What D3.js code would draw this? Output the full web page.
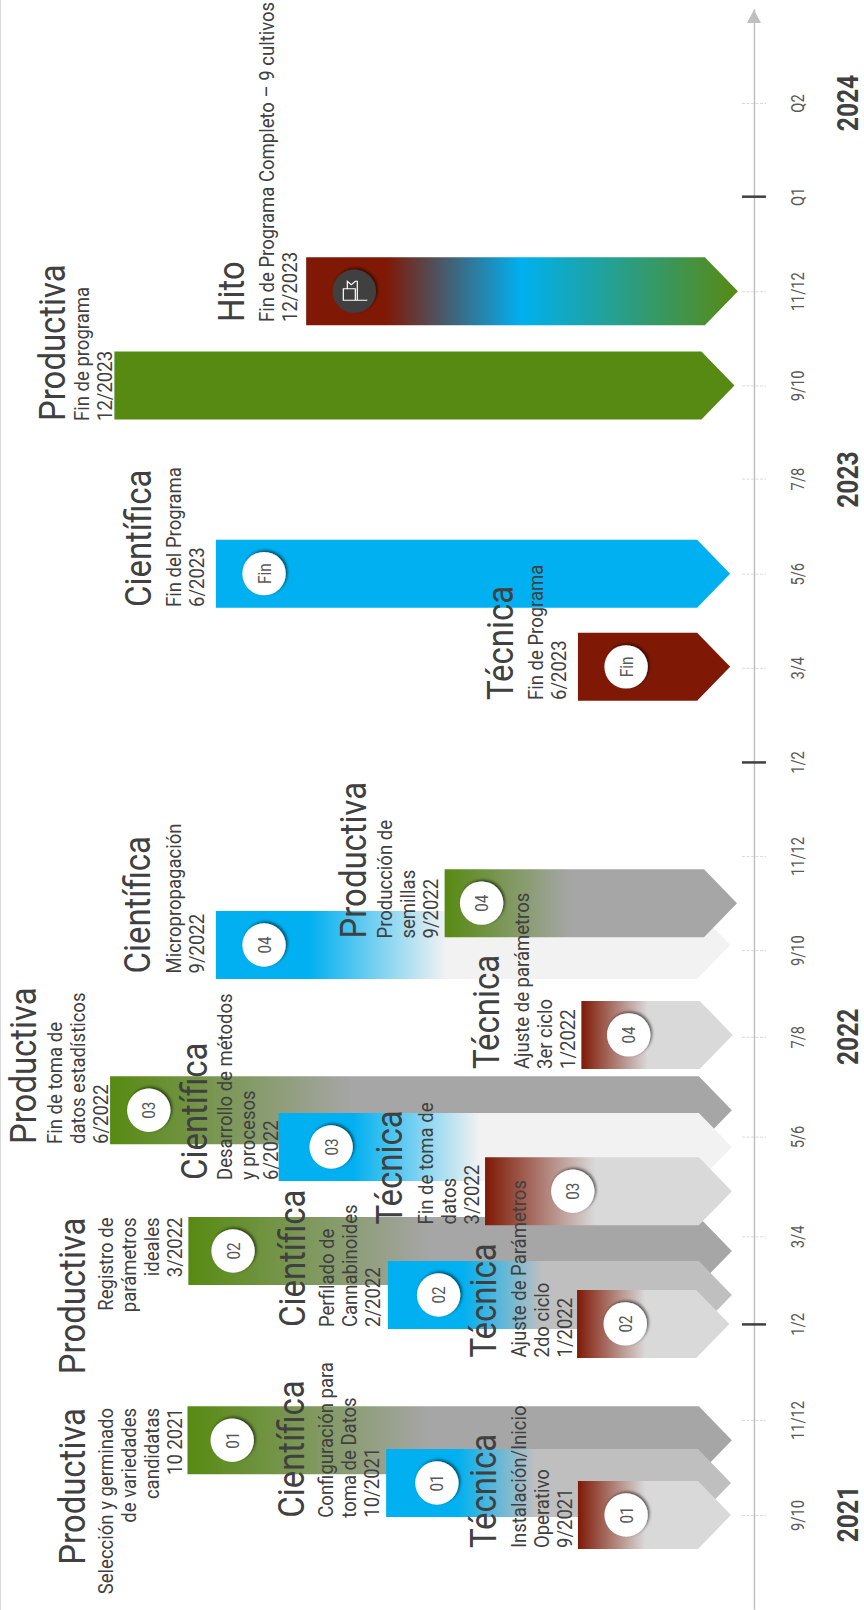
<!DOCTYPE html>
<html>
<head>
  <meta charset="utf-8">
  <title>Cronograma</title>
  <script src="https://d3js.org/d3.v7.min.js"></script>
  <style>
    body { margin: 0; padding: 0; background: #fff; }
    svg { display: block; }
    text { font-family: Roboto, sans-serif; }
  </style>
</head>
<body>
  <div id="my_dataviz"></div>
  <script>
    // time axis (two months per tick)
    var tickTime = [0, 1.01, 2.03, 2.96, 4.02, 5.08, 6, 7, 8, 9, 10, 11.01, 12, 13, 14.01, 15]
    var tickLabel = ["9/10", "11/12", "1/2", "3/4", "5/6", "7/8", "9/10", "11/12", "1/2", "3/4", "5/6", "7/8", "9/10", "11/12", "Q1", "Q2"]
    var majorTicks = [2, 8, 14]
    var yearLabel = ["2021", "2022", "2023", "2024"]
    var yearTime = [0.01, 5.08, 11, 15]

    // bars, in drawing order. start / tip / fade are % of the plot width
    var barKind = ["P", "C", "T", "P", "C", "T", "P", "C", "T", "C", "P", "T", "T", "C", "P", "H"]
    var barBadge = ["01", "01", "01", "02", "02", "02", "03", "03", "03", "04", "04", "04", "Fin", "Fin", "", "flag"]
    var barTime = [0.794, 0.34, 0, 2.805, 2.337, 2.03, 4.3, 3.91, 3.44, 6.055, 6.5, 5.1, 9.01, 10, 12, 13]
    var barStart = [21.8, 44.9, 67.2, 21.9, 45.1, 67.1, 12.8, 32.4, 56.4, 25.1, 51.7, 67.6, 67.2, 25.1, 13.3, 35.6]
    var barTip = [85.1, 85, 85, 85.1, 85.1, 84.8, 85.1, 85.1, 85.1, 84.9, 85.7, 85.2, 84.9, 84.9, 85.4, 85.8]
    var fadeFrom = [21.8, 53.2, 67.2, 21.9, 53.8, 67.1, 12.8, 41, 56.4, 35.9, 51.7, 67.6, 0, 0, 0, 44.9]
    var fadeTo = [50, 62.2, 75, 50, 63.1, 75, 41, 55.8, 69.2, 51.9, 66.3, 75.3, 0, 0, 0, 60.6]
    var fadeTone = ["dark", "mid", "light", "dark", "mid", "light", "dark", "pale", "light", "pale", "dark", "light", "none", "none", "none", "hito"]
    var badgeAt = [27, 50.8, 72.8, 27.1, 51, 72.7, 17.3, 38.5, 66.6, 30.7, 56, 73.1, 72.8, 30.7, 0, 41.2]

    // texts next to each bar, same order as the bars
    var labelTitle = ["Productiva", "Científica", "Técnica", "Productiva", "Científica", "Técnica", "Productiva", "Científica", "Técnica", "Científica", "Productiva", "Técnica", "Técnica", "Científica", "Productiva", "Hito"]
    var labelLines = [
      ["Selección y germinado", "de variedades", "candidatas", "10 2021"],
      ["Configuración para", "toma de Datos", "10/2021"],
      ["Instalación/Inicio", "Operativo", "9/2021"],
      ["Registro de", "parámetros", "ideales", "3/2022"],
      ["Perfilado de", "Cannabinoides", "2/2022"],
      ["Ajuste de Parámetros", "2do ciclo", "1/2022"],
      ["Fin de toma de", "datos estadísticos", "6/2022"],
      ["Desarrollo de métodos", "y procesos", "6/2022"],
      ["Fin de toma de", "datos", "3/2022"],
      ["Micropropagación", "9/2022"],
      ["Producción de", "semillas", "9/2022"],
      ["Ajuste de parámetros", "3er ciclo", "1/2022"],
      ["Fin de Programa", "6/2023"],
      ["Fin del Programa", "6/2023"],
      ["Fin de programa", "12/2023"],
      ["Fin de Programa Completo – 9 cultivos", "12/2023"]
    ]

    // layout only: title baseline, first line baseline, anchor y, anchor
    var labelPlace = [
      [85.8, 113.5, 1408, "end"], [305.7, 335, 1517.7, "start"], [498, 528, 1548, "start"],
      [85.8, 113.5, 1217.5, "end"], [306, 336, 1327, "start"], [498, 528, 1357.5, "start"],
      [36.5, 62, 1144, "start"], [207.7, 232.6, 1180, "start"], [404, 435, 1224.5, "start"],
      [151, 181.6, 973.5, "start"], [368, 394, 938.5, "start"], [501, 531, 1069, "start"],
      [515, 545.5, 700, "start"], [152, 181.6, 607, "start"], [65, 89.7, 421, "start"], [245, 275, 322, "start"]
    ]

    var width = 864, height = 1610
    var tone = { dark: "#a6a6a6", mid: "#bfbfbf", pale: "#f2f2f2", light: "#d9d9d9" }
    var kindColor = { P: "#578a12", C: "#00b0f0", T: "#7f1905", H: "#7f1905" }
    var arrowDepth = 33, barHalf = 34

    var svg = d3.select("#my_dataviz").append("svg")
      .attr("width", width).attr("height", height)

    var x = d3.scaleLinear().domain([0, 100]).range([0, 860])
    var px = d3.scaleLinear().domain([0, 864]).range([0, 860])
    var y = d3.scaleLinear().domain([-1, 16]).range([1609.13, 8.87])

    var defs = svg.append("defs")
    var shadow = defs.append("filter").attr("id", "badge-shadow")
      .attr("x", "-30%").attr("y", "-30%").attr("width", "160%").attr("height", "160%")
    shadow.append("feDropShadow").attr("dx", 1.6).attr("dy", -1.6)
      .attr("stdDeviation", 1.6).attr("flood-color", "#000").attr("flood-opacity", 0.6)

    function vtext(parent, str, tx, ty, anchor, size, sx, color, weight) {
      return parent.append("text")
        .attr("transform", "translate(" + tx + "," + ty + ") rotate(-90) scale(" + sx + ",1)")
        .attr("text-anchor", anchor)
        .attr("font-size", size)
        .attr("font-weight", weight || 400)
        .attr("fill", color)
        .text(str)
    }

    // page edge
    svg.append("line").attr("x1", 0.5).attr("x2", 0.5).attr("y1", 0).attr("y2", height)
      .attr("stroke", "#d9d9d9")

    // axis
    var axisX = x(87.67)
    var axis = svg.append("g").attr("transform", "translate(" + axisX + ",0)")
      .call(d3.axisRight(y).tickValues(tickTime).tickSizeOuter(0).tickFormat(function (d, i) { return tickLabel[i] }))
    axis.select(".domain").attr("stroke", "#bfbfbf").attr("stroke-width", 1.5)
    axis.selectAll(".tick line")
      .attr("x1", -12).attr("x2", 12)
      .attr("stroke", function (d, i) { return majorTicks.indexOf(i) >= 0 ? "#404040" : "#d9d9d9" })
      .attr("stroke-width", function (d, i) { return majorTicks.indexOf(i) >= 0 ? 2.5 : 1 })
      .attr("stroke-dasharray", function (d, i) { return majorTicks.indexOf(i) >= 0 ? null : "3,1.5" })
    axis.selectAll(".tick text")
      .attr("x", null).attr("y", null).attr("dy", null)
      .attr("transform", "translate(50,0) rotate(-90) scale(0.84,1)")
      .attr("text-anchor", "middle")
      .attr("font-family", "Roboto, sans-serif")
      .attr("font-size", 17.5)
      .attr("fill", "#595959")
    svg.append("path")
      .attr("d", d3.line()([[axisX, y(15.99)], [axisX - 7, y(15.85)], [axisX + 7, y(15.85)]]) + "Z")
      .attr("fill", "#bfbfbf")

    yearLabel.forEach(function (yr, i) {
      vtext(svg, yr, 857.5, y(yearTime[i]), "middle", 30, 0.82, "#404040", 700)
    })

    // bars
    barKind.forEach(function (kind, i) {
      var id = "fade" + i
      var grad = defs.append("linearGradient").attr("id", id)
        .attr("gradientUnits", "userSpaceOnUse")
        .attr("x1", x(barStart[i])).attr("x2", x(barTip[i])).attr("y1", 0).attr("y2", 0)
      var span = barTip[i] - barStart[i]
      function stop(v, c) {
        grad.append("stop").attr("offset", (v - barStart[i]) / span).attr("stop-color", c)
      }
      var t = fadeTone[i]
      if (t == "none") {
        stop(barStart[i], kindColor[kind])
      } else if (t == "hito") {
        stop(fadeFrom[i], kindColor.H)
        stop(fadeTo[i], kindColor.C)
        stop(barTip[i], kindColor.P)
      } else {
        stop(fadeFrom[i], kindColor[kind])
        stop(fadeTo[i], tone[t])
      }
      var l = x(barStart[i]), r = x(barTip[i]), c = y(barTime[i])
      svg.append("path")
        .attr("d", d3.line()([[l, c - barHalf], [r - arrowDepth, c - barHalf], [r, c], [r - arrowDepth, c + barHalf], [l, c + barHalf]]) + "Z")
        .attr("fill", "url(#" + id + ")")
    })

    // badges
    barKind.forEach(function (kind, i) {
      if (!barBadge[i]) return
      var bx = x(badgeAt[i]), by = y(barTime[i])
      var flag = barBadge[i] == "flag"
      svg.append("circle").attr("cx", bx).attr("cy", by).attr("r", 21.7)
        .attr("fill", flag ? "#404040" : "#fff")
        .attr("filter", "url(#badge-shadow)")
      if (flag) {
        svg.append("path")
          .attr("transform", "translate(" + bx + "," + by + ")")
          .attr("d", "M-11,-2.5H1V9H-11ZM1,9H13M-7,-2.5V-10L-3,-6.5L1,-10H3V9")
          .attr("fill", "none").attr("stroke", "#fff").attr("stroke-width", 1.2)
      } else {
        vtext(svg, barBadge[i], bx + 6.5, by, "middle", 18, 0.85, "#595959")
      }
    })

    // labels go over everything
    labelTitle.forEach(function (title, i) {
      var p = labelPlace[i]
      vtext(svg, title, px(p[0]), p[2], p[3], 37, 0.89, "#404040")
      labelLines[i].forEach(function (line, j) {
        vtext(svg, line, px(p[1]) + j * 23, p[2], p[3], 19.5, 0.95, "#404040")
      })
    })
  </script>
</body>
</html>
